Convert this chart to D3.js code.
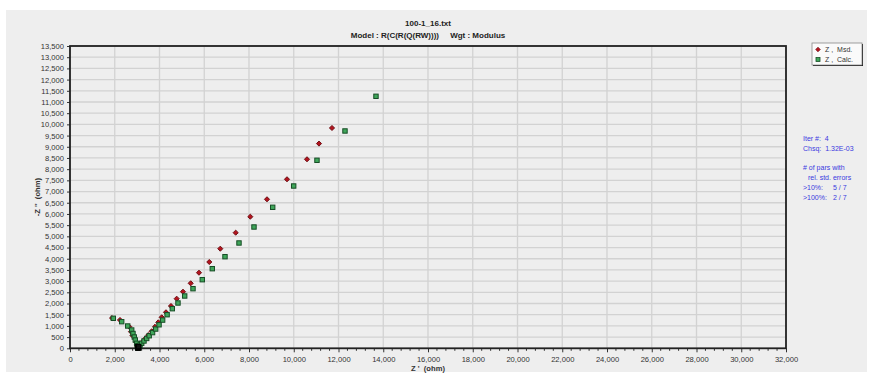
<!DOCTYPE html>
<html><head><meta charset="utf-8">
<script src="https://cdn.jsdelivr.net/npm/d3@7"></script>
<style>
html,body{margin:0;padding:0;background:#fff;}
svg text{font-family:"Liberation Sans",Arial,sans-serif;white-space:pre;}
</style></head>
<body><svg id="c" width="873" height="379"></svg>
<script>
// Measured impedance (Z', -Z'')
const msdRe = [1880,2235,2650,2726,2793,2950,2995,3015,3030,3045,3060,3100,3170,3260,3370,3500,3651,3799,3946,4098,4290,4513,4768,5050,5394,5765,6225,6717,7405,8058,8804,9698,10592,11128,11709];
const msdIm = [1350,1264,965,741,572,281,150,70,30,15,40,110,200,310,440,590,760,960,1160,1384,1608,1889,2215,2528,2903,3376,3854,4448,5163,5877,6654,7548,8441,9142,9839];
// Calculated impedance
const calcRe = [1935,2310,2579,2757,2815,2873,2918,2980,3010,3020,3030,3040,3050,3060,3070,3130,3204,3307,3428,3540,3690,3830,3980,4140,4340,4572,4826,5126,5497,5912,6359,6927,7553,8223,9059,9997,11038,12290,13675];
const calcIm = [1340,1188,996,817,661,505,371,223,120,70,30,10,25,50,80,140,224,326,440,560,700,860,1050,1260,1500,1769,2023,2336,2662,3064,3555,4091,4703,5417,6297,7248,8396,9705,11254];
const xTicks = [0,2000,4000,6000,8000,10000,12000,14000,16000,18000,20000,22000,24000,26000,28000,30000,32000];
const yTicks = [0,500,1000,1500,2000,2500,3000,3500,4000,4500,5000,5500,6000,6500,7000,7500,8000,8500,9000,9500,10000,10500,11000,11500,12000,12500,13000,13500];
const titleLines = ["100-1_16.txt","Model : R(C(R(Q(RW))))     Wgt : Modulus"];
const legendLabels = ["Z ,  Msd.","Z ,  Calc."];
const infoLines = [["Iter #:  4",0],["Chsq:  1.32E-03",0],["",0],["# of pars with",0],["rel. std. errors",5],[">10%:",0,"5 / 7"],[">100%:",0,"2 / 7"]];

const svg = d3.select("#c");
svg.append("rect").attr("x",6).attr("y",10).attr("width",861).attr("height",362).attr("fill","#eeeeee");

const L=70,R=786,T=46,B=348.3;
const x = d3.scaleLinear().domain([0,32000]).range([L,R]);
const y = d3.scaleLinear().domain([0,13500]).range([B,T]);

// grid
const g = svg.append("g");
g.selectAll("line.v").data(xTicks).join("line")
  .attr("x1",d=>x(d)).attr("x2",d=>x(d)).attr("y1",T).attr("y2",B)
  .attr("stroke","#d2d2d2").attr("stroke-width",1.3);
g.selectAll("line.h").data(yTicks).join("line")
  .attr("x1",L).attr("x2",R).attr("y1",d=>y(d)).attr("y2",d=>y(d))
  .attr("stroke","#d2d2d2").attr("stroke-width",1.3);

// axes
const xAxis = d3.axisBottom(x).tickValues(xTicks).tickSize(4).tickPadding(3).tickFormat(d3.format(","));
const gx = svg.append("g").attr("transform",`translate(0,${B})`).call(xAxis);
const minorX = [];
for(let i=0;i<xTicks.length-1;i++){for(let k=1;k<5;k++){minorX.push(xTicks[i]+k*400);}}
svg.append("g").selectAll("line").data(minorX).join("line")
  .attr("x1",d=>x(d)).attr("x2",d=>x(d)).attr("y1",B).attr("y2",B+2.5)
  .attr("stroke","#333").attr("stroke-width",1);
const yAxis = d3.axisLeft(y).tickValues(yTicks).tickSize(3).tickPadding(3).tickFormat(d3.format(","));
const gy = svg.append("g").attr("transform",`translate(${L},0)`).call(yAxis);
[gx,gy].forEach(a=>{
  a.select(".domain").remove();
  a.selectAll(".tick line").attr("stroke","#333");
  a.selectAll(".tick text").attr("fill","#333").style("font-size","7.6px");
});
gx.selectAll(".tick text").attr("dy","0.9em");

// frame
svg.append("rect").attr("x",L).attr("y",T).attr("width",R-L).attr("height",B-T)
  .attr("fill","none").attr("stroke","#222").attr("stroke-width",1.8);

// axis labels
svg.append("text").attr("x",(L+R)/2).attr("y",371).attr("text-anchor","middle")
  .style("font-size","7.6px").style("font-weight","bold").attr("fill","#333").text("Z '  (ohm)");
svg.append("text").attr("transform",`translate(40,${(T+B)/2}) rotate(-90)`).attr("text-anchor","middle")
  .style("font-size","7.6px").style("font-weight","bold").attr("fill","#333").text("-Z ''  (ohm)");

// title
svg.selectAll("text.title").data(titleLines).join("text").attr("class","title")
  .attr("x",(L+R)/2).attr("y",(d,i)=>26+i*11.5).attr("text-anchor","middle")
  .style("font-size","8px").style("font-weight","bold").attr("fill","#222").text(d=>d);

// data
const msd = msdRe.map((v,i)=>[v,msdIm[i]]);
const calc = calcRe.map((v,i)=>[v,calcIm[i]]);
const plot = svg.append("g");
plot.selectAll("path.m").data(msd).join("path")
  .attr("d",d3.symbol(d3.symbolSquare,13))
  .attr("transform",d=>`translate(${x(d[0])},${y(d[1])}) rotate(45)`)
  .attr("fill","#b3141e").attr("stroke","#6a0a10").attr("stroke-width",0.9);
plot.selectAll("rect.c").data(calc).join("rect")
  .attr("x",d=>x(d[0])-2.2).attr("y",d=>y(d[1])-2.2).attr("width",4.4).attr("height",4.4)
  .attr("fill","#3fa65a").attr("stroke","#174d26").attr("stroke-width",1);
// dense overlapping cluster near the origin of the arc appears black
plot.selectAll("rect.k").data(calc.filter(d=>d[1]<100)).join("rect")
  .attr("x",d=>x(d[0])-2.2).attr("y",d=>y(d[1])-2.2).attr("width",4.4).attr("height",4.4)
  .attr("fill","#111").attr("stroke","#000").attr("stroke-width",1);

// legend
const lg = svg.append("g");
lg.append("rect").attr("x",813).attr("y",44).attr("width",50).attr("height",22).attr("fill","#111");
lg.append("rect").attr("x",812).attr("y",43).attr("width",50).attr("height",22).attr("fill","#fafafa").attr("stroke","#888").attr("stroke-width",0.8);
lg.append("path").attr("d",d3.symbol(d3.symbolSquare,11)).attr("transform","translate(818,49.5) rotate(45)").attr("fill","#b3141e").attr("stroke","#6a0a10").attr("stroke-width",0.6);
lg.append("rect").attr("x",816).attr("y",57.5).attr("width",4).attr("height",4).attr("fill","#3fa65a").attr("stroke","#174d26").attr("stroke-width",0.8);
lg.selectAll("text").data(legendLabels).join("text")
  .attr("x",825).attr("y",(d,i)=>52+i*10).style("font-size","7px").attr("fill","#333").text(d=>d);

// info text
const info = svg.append("g");
infoLines.forEach((l,i)=>{
  info.append("text").attr("x",803+l[1]).attr("y",141+i*9.8).style("font-size","7px").attr("fill","#3a3ae0").text(l[0]);
  if(l[2]) info.append("text").attr("x",833).attr("y",141+i*9.8).style("font-size","7px").attr("fill","#3a3ae0").text(l[2]);
});
</script></body></html>
